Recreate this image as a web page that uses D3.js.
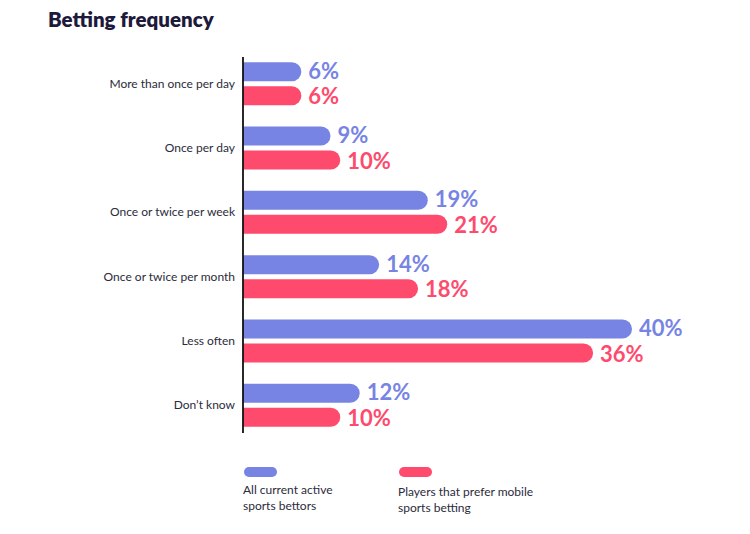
<!DOCTYPE html>
<html><head><meta charset="utf-8">
<script src="https://cdn.jsdelivr.net/npm/d3@7/dist/d3.min.js"></script>
<style>body{margin:0;background:#fff;} svg{display:block;}</style>
</head><body>
<svg id="c" width="750" height="534"></svg>
<script>
const categories = ["More than once per day","Once per day","Once or twice per week","Once or twice per month","Less often","Don\u2019t know"];
const allBettors = [6, 9, 19, 14, 40, 12];
const mobileBettors = [6, 10, 21, 18, 36, 10];
const seriesNames = [["All current active","sports bettors"],["Players that prefer mobile","sports betting"]];
const colors = ["#7784e4","#fe4a6d"];

const svg = d3.select("#c");
const font = "Lato, 'Open Sans', sans-serif";
svg.append("text").attr("x",48).attr("y",27).attr("font-family",font).attr("font-weight",800)
  .attr("font-size",20.5).attr("fill","#1d1a3b").text("Betting frequency");

const x = d3.scaleLinear().domain([0,40]).range([243,632]);
const y = d3.scaleBand().domain(categories).range([51.5,437.5]);
const barH = 19, gap = 5;

function barPath(x0,x1,yt,h){
  const r=h/2; const w=x1-x0;
  const rr=Math.min(r,w);
  return `M${x0},${yt}H${x1-rr}A${rr},${r} 0 0 1 ${x1-rr},${yt+h}H${x0}Z`;
}

const series = [allBettors, mobileBettors];
series.forEach((vals,si)=>{
  const g = svg.append("g");
  categories.forEach((c,i)=>{
    const cy = y(c)+y.bandwidth()/2;
    const yt = si===0 ? cy - gap/2 - barH : cy + gap/2;
    g.append("path").attr("d",barPath(x(0),x(vals[i]),yt,barH)).attr("fill",colors[si]);
    g.append("text").attr("x",x(vals[i])+7).attr("y",yt+barH/2+(si===0?7:8.5))
      .attr("font-family",font).attr("font-weight",700).attr("font-size",22)
      .attr("fill",colors[si]).text(vals[i]+"%");
  });
});

categories.forEach(c=>{
  svg.append("text").attr("x",235).attr("y",y(c)+y.bandwidth()/2+4).attr("text-anchor","end")
    .attr("font-family",font).attr("font-size",12).attr("fill","#2b2b3b").text(c);
});

svg.append("line").attr("x1",243).attr("x2",243).attr("y1",57).attr("y2",433)
  .attr("stroke","#111").attr("stroke-width",1.8);

const legX = [244, 399];
seriesNames.forEach((lines,i)=>{
  svg.append("rect").attr("x",legX[i]).attr("y",467).attr("width",33).attr("height",10)
    .attr("rx",5).attr("fill",colors[i]);
  lines.forEach((t,j)=>{
    svg.append("text").attr("x",legX[i]-1).attr("y",494+i*2+j*16).attr("font-family",font)
      .attr("font-size",12).attr("fill","#2b2b3b").text(t);
  });
});
</script>
</body></html>
